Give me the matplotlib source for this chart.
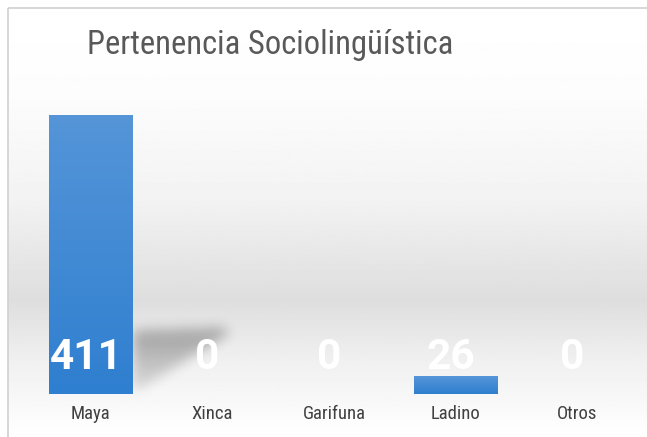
import numpy as np
import matplotlib.pyplot as plt
from matplotlib.colors import LinearSegmentedColormap
from matplotlib.patches import Rectangle
from matplotlib.path import Path

categorias = ['Maya', 'Xinca', 'Garifuna', 'Ladino', 'Otros']
valores = [411, 0, 0, 26, 0]

fuente = ['Roboto Condensed', 'Roboto', 'DejaVu Sans']

W, H = 647, 437
fig = plt.figure(figsize=(W / 100, H / 100), dpi=100)

# fondo con degradado gris
bg = fig.add_axes([0, 0, 1, 1], zorder=0)
bg.set_xlim(0, W)
bg.set_ylim(H, 0)
bg.axis('off')
yy = np.linspace(0, 1, 400)
g = np.interp(yy, [0, 0.2, 0.45, 0.68, 0.82, 1.0], [1.0, 0.99, 0.95, 0.87, 0.94, 1.0])
bg.imshow(np.tile(g[:, None], (1, 2)), extent=[8, W, H, 8], cmap='gray', vmin=0, vmax=1,
          aspect='auto', interpolation='bilinear')
bg.add_patch(Rectangle((8, 8), W, H, fill=False, ec='#d0d0d0', lw=1.2))

# sombra difusa detrás de la barra Maya (mascara suavizada)
x0s, x1s, y0s, y1s = 100, 260, 300, 410
gx, gy = np.meshgrid(np.arange(x0s, x1s) + 0.5, np.arange(y0s, y1s) + 0.5)
poly = Path([(133, 330), (222, 327), (230, 333), (133, 394)])
mask = poly.contains_points(np.c_[gx.ravel(), gy.ravel()]).reshape(gx.shape).astype(float)
ker = np.exp(-0.5 * (np.arange(-15, 16) / 6.0) ** 2)
ker /= ker.sum()
mask = np.apply_along_axis(lambda r: np.convolve(r, ker, mode='same'), 1, mask)
mask = np.apply_along_axis(lambda c: np.convolve(c, ker, mode='same'), 0, mask)
# mas oscura cerca del borde superior
mask *= np.clip(1.2 - (gy - 328) / 80.0, 0.3, 1.0)
sombra = np.zeros(mask.shape + (4,))
sombra[..., 3] = 0.26 * mask
bg.imshow(sombra, extent=[x0s, x1s, y1s, y0s], aspect='auto', interpolation='bilinear')

ax = fig.add_axes([30 / W, (H - 394) / H, 608 / W, (394 - 88) / H], zorder=1)
ax.patch.set_alpha(0)
x = np.arange(len(categorias))
bars = ax.bar(x, valores, width=0.69, color='none')

cmap = LinearSegmentedColormap.from_list('azul', ['#2f7fd0', '#5595d8'])
grad = np.linspace(0, 1, 100)[:, None]
for b in bars:
    h = b.get_height()
    if h <= 0:
        continue
    xb = b.get_x()
    im = ax.imshow(grad, extent=[xb, xb + b.get_width(), 0, h], cmap=cmap, origin='lower',
                   aspect='auto', interpolation='bilinear', zorder=2)
    im.set_clip_path(b)
ax.set_xlim(-0.5, len(categorias) - 0.5)
ax.set_ylim(0, 450)

for i, v in enumerate(valores):
    ax.text(i - 0.04, 53, str(v), ha='center', va='center', color='white',
            fontsize=30.5, fontweight='bold', family=['Roboto', 'DejaVu Sans'], zorder=3)

ax.set_xticks(x)
ax.set_xticklabels(categorias, family=fuente, fontsize=13.5, color='#404040')
ax.tick_params(axis='x', length=0, pad=8)
ax.set_yticks([])
for s in ax.spines.values():
    s.set_visible(False)

fig.text(270 / W, 1 - 45 / H, 'Pertenencia Sociolingüística', ha='center', va='center',
         fontsize=23.5, color='#595959', family=fuente)

fig.savefig('out.png', dpi=100)
